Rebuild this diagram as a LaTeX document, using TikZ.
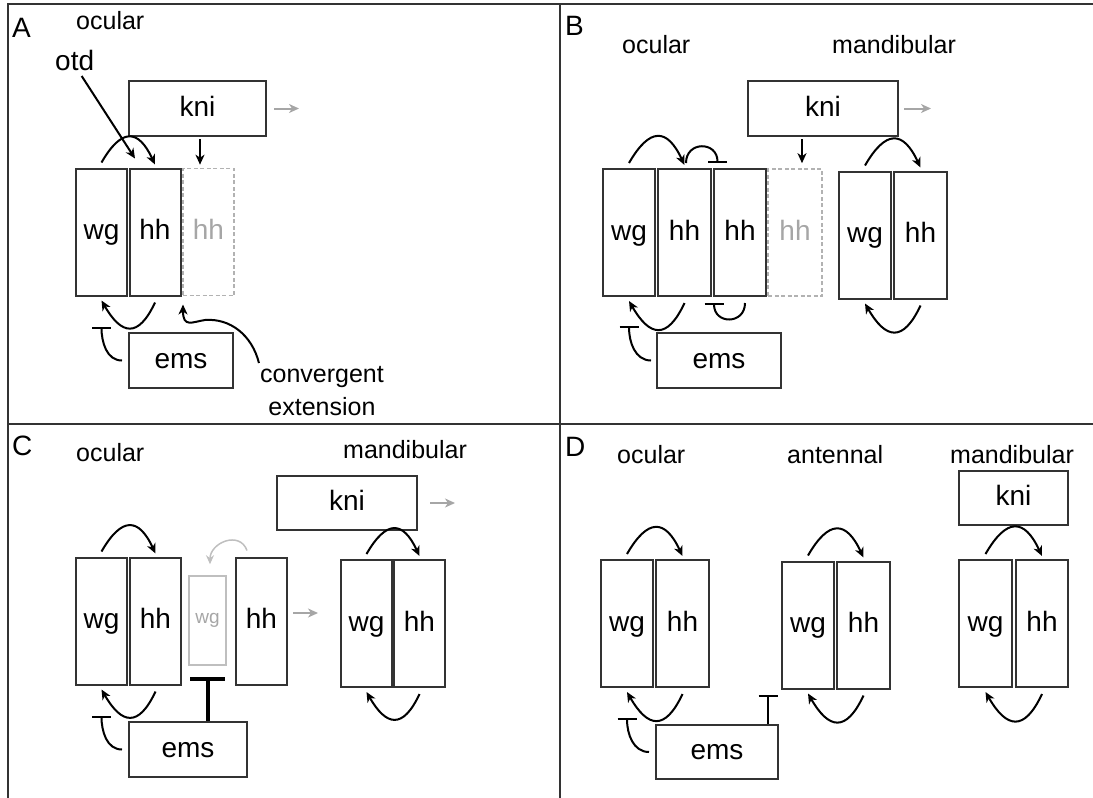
\documentclass[tikz,border=0pt]{standalone}
\usepackage{fontspec}
\setmainfont{Liberation Sans}
\usetikzlibrary{arrows.meta}

% wg/hh stripe pairs: activation arc over the top, return arc underneath
\newcommand\pairtop[2]{\draw[act] ([yshift=5pt]#1.north) to[out=60,in=115,looseness=1.9] ([yshift=3pt]#2.north);}
\newcommand\pairbot[2]{\draw[act] ([yshift=-6pt]#2.south) to[out=-115,in=-60,looseness=1.9] ([yshift=-4pt]#1.south);}

\begin{document}
\begin{tikzpicture}[x=1pt,y=-1pt,
  every node/.style={inner sep=0pt},
  lab/.style={font=\fontsize{25}{25}\selectfont, anchor=base west},
  tag/.style={font=\fontsize{28}{28}\selectfont, anchor=base west},
  gene/.style={draw=black!80, line width=2pt, font=\fontsize{28}{28}\selectfont,
               text height=20pt, text depth=5pt},
  stripe/.style={gene, minimum width=51pt, minimum height=127pt},
  ghost/.style={stripe, draw=black!30, line width=1.6pt, dash pattern=on 4pt off 2.5pt, text=black!35},
  act/.style={line width=2pt, -{Stealth[length=10pt,width=9pt,inset=3pt]}},
  inh/.style={line width=2pt, -{Bar[width=19pt]}},
  fade/.style={draw=black!35, line width=2pt, -{Stealth[length=10pt,width=9pt,inset=3pt]}},
  frame/.style={draw=black!80, line width=2pt}]

\useasboundingbox (0,0) rectangle (1093,798);

% panel frame
\draw[frame] (1093,4) -- (8,4) -- (8,798);
\draw[frame] (560,4) -- (560,798);
\draw[frame] (8,424) -- (1093,424);

% ---------------- A ----------------
\node[tag] (aTag) at (12,37) {A};
\node[lab] (aOc) at (76,29) {ocular};
\node[font=\fontsize{28}{28}\selectfont, anchor=south west] (aOtd) at (55,71) {otd};
\node[gene, minimum width=137pt, minimum height=55pt] (aKni) at (197.5,108.5) {kni};
\node[stripe] (aWg) at (101.5,232) {wg};
\node[stripe] (aHh) at (155,232) {hh};
\node[ghost] (aHhx) at (208.5,232) {hh};
\node[gene, minimum width=104pt, minimum height=55pt] (aEms) at (181,360.5) {ems};
\node[font=\fontsize{25}{33}\selectfont, align=center, anchor=north] (aConv) at (322,366) {convergent\\extension};
\coordinate (aOut) at (299,108.5);

\draw[fade] ([xshift=7pt]aKni.east) -- (aOut);
\draw[act] ([xshift=2.5pt,yshift=-2pt]aKni.south) -- ([xshift=-8.5pt,yshift=3pt]aHhx.north);
\draw[act] ([xshift=7pt,yshift=-5pt]aOtd.south) -- ([xshift=-20pt,yshift=9pt]aHh.north);
\pairtop{aWg}{aHh}
\pairbot{aWg}{aHh}
\draw[inh] ([xshift=-6pt]aEms.west) to[out=180,in=-90] ([yshift=-30pt]aWg.south);
\draw[act] ([xshift=-1pt,yshift=3pt]aConv.north west)
   .. controls (252,335) and (230,318) .. (205,320)
   .. controls (192,322) and (183,328) .. ([xshift=1.5pt,yshift=-8pt]aHh.south east);

% ---------------- B ----------------
\node[tag] (bTag) at (565,35) {B};
\node[lab] (bOc) at (622,53) {ocular};
\node[lab] (bMd) at (832,53) {mandibular};
\node[gene, minimum width=150pt, minimum height=55pt] (bKni) at (823,108.5) {kni};
\node[stripe, minimum width=52pt] (bWg) at (629,232.5) {wg};
\node[stripe, minimum width=53pt] (bHh) at (684.5,232.5) {hh};
\node[stripe, minimum width=52pt] (bHh2) at (740,232.5) {hh};
\node[ghost, minimum width=54pt] (bHhx) at (795,232.5) {hh};
\node[stripe, minimum width=52pt] (bWg2) at (865,235) {wg};
\node[stripe, minimum width=53pt] (bHh3) at (920.5,235) {hh};
\node[gene, minimum width=124pt, minimum height=55pt] (bEms) at (719,360.5) {ems};
\coordinate (bOut) at (931,108.5);

\draw[fade] ([xshift=5pt]bKni.east) -- (bOut);
\draw[act] ([xshift=-21pt,yshift=-2pt]bKni.south) -- ([xshift=7pt,yshift=5pt]bHhx.north);
\pairtop{bWg}{bHh}
\pairbot{bWg}{bHh}
\draw[inh] ([xshift=1.5pt,yshift=5pt]bHh.north) to[out=90,in=90,looseness=1.8] ([xshift=-22.5pt,yshift=5pt]bHh2.north);
\draw[inh] ([xshift=5pt,yshift=-6pt]bHh2.south) to[out=-90,in=-90,looseness=1.8] ([xshift=-26pt,yshift=-6pt]bHh2.south);
\draw[inh] ([xshift=-5pt]bEms.west) to[out=180,in=-90] ([yshift=-29pt]bWg.south);
\pairtop{bWg2}{bHh3}
\pairbot{bWg2}{bHh3}

% ---------------- C ----------------
\node[tag] (cTag) at (12,455) {C};
\node[lab] (cOc) at (76,461) {ocular};
\node[lab] (cMd) at (343,458) {mandibular};
\node[gene, minimum width=140pt, minimum height=54pt] (cKni) at (347,503) {kni};
\node[stripe] (cWg) at (101.5,621) {wg};
\node[stripe] (cHh) at (155.5,621) {hh};
\node[draw=black!25, line width=1.6pt, text=black!35, font=\fontsize{19}{19}\selectfont,
      minimum width=37pt, minimum height=89pt] (cWgx) at (207.5,620.5) {wg};
\node[stripe] (cHh2) at (261.5,621) {hh};
\node[stripe] (cWg2) at (366.5,623.5) {wg};
\node[stripe] (cHh3) at (419.5,623.5) {hh};
\node[gene, minimum width=118pt, minimum height=55pt] (cEms) at (188,749.5) {ems};
\coordinate (cOut) at (455,503);
\coordinate (cNext) at (318,613);

\draw[fade] ([xshift=12pt]cKni.east) -- (cOut);
\draw[fade] ([xshift=5pt,yshift=8pt]cHh2.east) -- (cNext);
\pairtop{cWg}{cHh}
\pairbot{cWg}{cHh}
\draw[draw=black!25, line width=1.5pt, -{Stealth[length=9pt,width=8pt,inset=3pt]}]
   ([xshift=-14.5pt,yshift=6pt]cHh2.north) to[out=110,in=90,looseness=1.4] ([xshift=2.5pt,yshift=11pt]cWgx.north);
\draw[line width=4pt, -{Bar[width=35pt]}] ([xshift=19.5pt]cEms.north) -- ([yshift=-11pt]cWgx.south);
\draw[inh] ([xshift=-6pt]cEms.west) to[out=180,in=-90] ([yshift=-30pt]cWg.south);
\pairtop{cWg2}{cHh3}
\pairbot{cWg2}{cHh3}

% ---------------- D ----------------
\node[tag] (dTag) at (565,456) {D};
\node[lab] (dOc) at (617,463) {ocular};
\node[lab] (dAn) at (787,463) {antennal};
\node[lab] (dMd) at (950,463) {mandibular};
\node[gene, minimum width=109pt, minimum height=54pt] (dKni) at (1013.5,498) {kni};
\node[stripe, minimum width=52pt] (dWg) at (627,623.5) {wg};
\node[stripe, minimum width=53pt] (dHh) at (682.5,623.5) {hh};
\node[stripe, minimum width=52pt] (dWg2) at (808,625) {wg};
\node[stripe, minimum width=53pt] (dHh2) at (863.5,625) {hh};
\node[stripe, minimum width=53pt] (dWg3) at (985.5,623.5) {wg};
\node[stripe, minimum width=52pt] (dHh3) at (1042,623.5) {hh};
\node[gene, minimum width=122pt, minimum height=54pt] (dEms) at (717,752) {ems};

\pairtop{dWg}{dHh}
\pairbot{dWg}{dHh}
\pairtop{dWg2}{dHh2}
\pairbot{dWg2}{dHh2}
\pairtop{dWg3}{dHh3}
\pairbot{dWg3}{dHh3}
\draw[inh] ([xshift=-6pt]dEms.west) to[out=180,in=-90] ([yshift=-30pt]dWg.south);
\draw[inh] ([xshift=51pt]dEms.north) -- ([xshift=51pt,yshift=29pt]dEms.north);

\end{tikzpicture}
\end{document}
